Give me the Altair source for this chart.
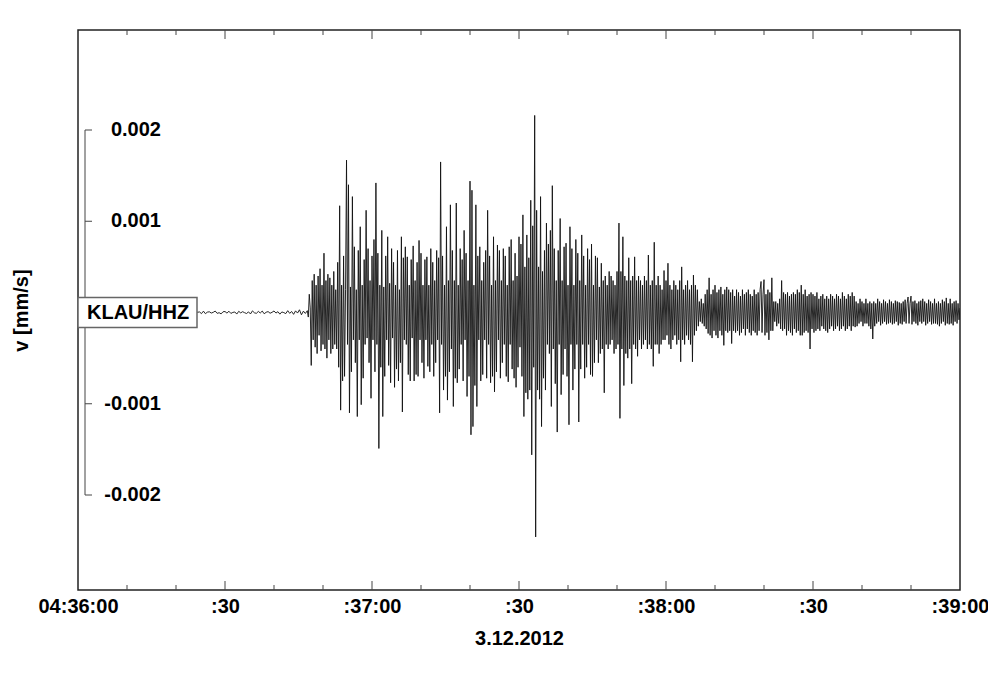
import altair as alt
import pandas as pd

# ---------------- data ----------------
PRE_INTERVAL_S = 0.4        # pre-event noise sampling, starts 04:36:00
EVENT_START_S = 46.8        # first event sample, seconds after 04:36:00
EVENT_INTERVAL_S = 0.2      # event sampling

# velocity in micrometres per second (1 um/s = 0.001 mm/s)
pre_event_um = [
    0.00, 0.01, -0.005, 0.012, 0.004, -0.01, -0.003, 0.008, -0.015, 0.006,
    0.01, -0.004, 0.002, 0.014, -0.008, -0.012, 0.005, 0.0, 0.009, -0.006,
    -0.014, 0.01, 0.004, -0.002, 0.012, 0.006, -0.01, -0.005, 0.008, -0.003,
    0.011, -0.016, 0.004, 0.015, -0.006, 0.002, -0.009, 0.006, 0.012, -0.014,
    0.003, 0.008, -0.01, 0.016, -0.004, 0.005, -0.002, -0.015, 0.007, 0.012,
    -0.008, 0.001, 0.017, -0.006, 0.004, -0.016, -0.002, 0.009, -0.007, 0.014,
    -0.01, 0.003, 0.006, -0.012, 0.015, -0.013, 0.004, 0.008, -0.006, 0.002,
    0.016, -0.009, -0.002, -0.015, 0.008, 0.011, -0.007, 0.014, -0.01, 0.001,
    0.006, -0.017, 0.013, -0.004, 0.009, -0.002, -0.011, 0.007, -0.016, 0.018,
    -0.003, -0.009, 0.012, -0.005, 0.016, -0.014, 0.003, 0.01, -0.008, 0.002,
    0.017, -0.006, 0.009, -0.018, 0.006, -0.001, -0.012, 0.02, -0.009, 0.011,
    -0.02, 0.018, -0.006, 0.03, -0.025, 0.015, -0.01,
]

event_um = [
    0.02, -0.05, 0.20, 0.05, -0.58, 0.35, -0.30, 0.42, -0.38, 0.30,
    -0.45, 0.40, -0.25, 0.48, -0.42, 0.30, -0.35, 0.65, -0.40, 0.35,
    -0.50, 0.42, -0.30, 0.38, -0.45, 0.30, -0.40, 0.45, -0.35, 0.25,
    -0.40, 0.55, -0.60, 1.17, -1.07, 0.30, -0.75, 0.62, -0.70, 0.25,
    1.67, -0.35, 1.40, -1.10, 0.28, -0.65, 1.27, -0.30, 0.72, -0.55,
    0.25, -1.14, 0.68, -0.30, 0.94, -1.01, 0.30, -0.72, 0.58, -0.35,
    1.12, -0.28, 0.70, -0.55, 0.35, -0.94, 0.62, -0.30, 0.80, -0.65,
    1.42, -0.35, 0.65, -1.49, 0.30, -0.60, 0.90, -1.14, 0.28, -0.70,
    0.62, -0.30, 0.83, -0.58, 0.32, -0.77, 0.70, -0.28, 0.55, -0.82,
    0.30, -0.62, 0.68, -0.75, 0.25, -0.55, 0.83, -1.09, 0.60, -0.30,
    0.72, -0.35, 0.61, -0.68, 0.30, -0.75, 0.58, -0.28, 0.73, -0.75,
    0.35, -0.68, 0.55, -0.70, 0.79, -0.30, 0.65, -0.55, 0.30, -0.72,
    0.58, -0.30, 0.61, -0.59, 0.30, -0.65, 0.70, -0.35, 0.55, -0.70,
    0.35, -0.55, 0.68, -0.30, 0.60, -1.10, 1.65, -0.35, 0.62, -0.85,
    0.30, -0.70, 0.94, -0.96, 0.35, -0.65, 1.18, -0.40, 0.68, -1.03,
    0.35, -0.72, 1.20, -0.77, 0.30, -0.62, 0.70, -0.35, 0.58, -0.75,
    0.90, -0.30, 0.65, -0.92, 0.35, -0.70, 1.44, -1.34, 1.34, -1.25,
    0.30, -0.80, 1.18, -1.03, 0.62, -0.30, 0.72, -0.75, 0.35, -0.68,
    0.55, -0.30, 0.68, -0.72, 1.12, -0.35, 0.62, -0.77, 0.30, -0.70,
    0.83, -0.87, 0.35, -0.65, 0.74, -0.30, 0.68, -0.72, 0.35, -0.55,
    0.70, -0.35, 0.62, -0.70, 0.30, -0.76, 0.72, -0.35, 0.80, -0.62,
    0.35, -0.72, 0.65, -0.82, 0.40, -0.60, 0.83, -0.38, 0.75, -0.70,
    1.07, -1.14, 0.50, -0.88, 0.85, -0.95, 0.60, -0.85, 1.23, -1.56,
    0.95, -0.60, 2.16, -2.46, 1.12, -0.85, 0.50, -0.95, 1.27, -1.25,
    0.45, -0.72, 0.68, -0.85, 0.98, -0.35, 0.75, -0.45, 0.90, -1.03,
    1.39, -0.40, 0.70, -0.78, 0.35, -1.31, 0.68, -0.35, 1.03, -0.90,
    0.35, -0.68, 0.72, -0.40, 0.76, -0.70, 0.30, -1.23, 0.94, -0.35,
    0.70, -0.85, 0.30, -0.62, 0.80, -0.35, 0.65, -1.20, 0.35, -0.62,
    0.85, -0.35, 0.62, -0.72, 0.30, -0.60, 0.70, -0.35, 0.58, -0.68,
    0.75, -0.70, 0.30, -0.55, 0.62, -0.30, 0.60, -0.55, 0.28, -0.45,
    0.54, -0.40, 0.35, -0.88, 0.40, -0.35, 0.30, -0.40, 0.45, -0.35,
    0.40, -0.30, 0.35, -0.45, 0.30, -0.40, 0.45, -0.35, 0.98, -1.16,
    0.45, -0.40, 0.83, -0.80, 0.40, -0.45, 0.35, -0.50, 0.60, -0.40,
    0.35, -0.78, 0.40, -0.35, 0.61, -0.40, 0.35, -0.48, 0.40, -0.30,
    0.35, -0.40, 0.30, -0.35, 0.40, -0.30, 0.35, -0.40, 0.63, -0.35,
    0.30, -0.40, 0.35, -0.59, 0.77, -0.35, 0.30, -0.35, 0.40, -0.45,
    0.30, -0.35, 0.25, -0.30, 0.46, -0.30, 0.35, -0.25, 0.54, -0.35,
    0.30, -0.40, 0.25, -0.30, 0.35, -0.25, 0.30, -0.35, 0.25, -0.30,
    0.35, -0.54, 0.50, -0.30, 0.25, -0.35, 0.30, -0.25, 0.35, -0.30,
    0.25, -0.35, 0.30, -0.54, 0.41, -0.25, 0.30, -0.20, 0.25, -0.15,
    0.12, -0.10, 0.15, -0.12, 0.10, -0.15, 0.20, -0.18, 0.25, -0.23,
    0.38, -0.25, 0.20, -0.28, 0.25, -0.20, 0.30, -0.25, 0.22, -0.28,
    0.25, -0.20, 0.28, -0.25, 0.20, -0.36, 0.25, -0.20, 0.28, -0.22,
    0.25, -0.20, 0.22, -0.34, 0.25, -0.20, 0.18, -0.22, 0.25, -0.20,
    0.22, -0.25, 0.18, -0.22, 0.25, -0.18, 0.20, -0.25, 0.22, -0.18,
    0.25, -0.22, 0.20, -0.25, 0.18, -0.20, 0.25, -0.22, 0.20, -0.25,
    0.22, -0.20, 0.25, 0.34, -0.22, 0.20, 0.36, -0.25, 0.20, -0.22,
    0.25, -0.30, 0.22, -0.20, 0.38, -0.20, 0.12, -0.10, 0.12, -0.15,
    0.10, -0.12, 0.15, -0.18, 0.35, -0.20, 0.22, -0.18, 0.20, -0.25,
    0.22, -0.20, 0.18, -0.22, 0.20, -0.25, 0.22, -0.18, 0.20, -0.22,
    0.25, -0.20, 0.22, -0.25, 0.30, -0.25, 0.20, -0.22, 0.25, -0.20,
    0.18, -0.22, 0.20, -0.40, 0.22, -0.18, 0.20, -0.22, 0.18, -0.20,
    0.22, -0.18, 0.15, -0.20, 0.18, -0.15, 0.20, -0.18, 0.15, -0.20,
    0.18, -0.22, 0.15, -0.18, 0.20, -0.15, 0.18, -0.20, 0.15, -0.18,
    0.20, -0.15, 0.18, -0.20, 0.15, -0.18, 0.22, -0.15, 0.18, -0.20,
    0.15, -0.18, 0.20, -0.15, 0.18, -0.20, 0.22, -0.15, 0.18, -0.16,
    0.12, -0.15, 0.10, -0.12, 0.15, -0.10, 0.12, -0.15, 0.10, -0.12,
    0.15, -0.12, 0.10, -0.15, 0.12, -0.18, 0.10, -0.29, 0.12, -0.15,
    0.10, -0.12, 0.15, -0.10, 0.12, -0.14, 0.10, -0.12, 0.14, -0.10,
    0.12, -0.13, 0.10, -0.12, 0.14, -0.11, 0.12, -0.13, 0.10, -0.12,
    0.13, -0.10, 0.12, -0.14, 0.11, -0.12, 0.10, -0.13, 0.12, -0.10,
    0.14, -0.12, 0.10, 0.17, -0.12, 0.10, 0.18, -0.13, 0.12, -0.10,
    0.13, -0.12, 0.10, -0.14, 0.12, -0.10, 0.13, -0.12, 0.15, -0.10,
    0.12, -0.14, 0.10, -0.12, 0.14, -0.10, 0.12, -0.13, 0.10, -0.12,
    0.15, -0.12, 0.10, -0.13, 0.12, -0.15, 0.10, -0.12, 0.14, -0.10,
    0.12, -0.14, 0.16, -0.12, 0.10, -0.13, 0.15, -0.12, 0.10, -0.14,
    0.12, -0.10, 0.13, -0.12, 0.10, -0.08, 0.05,
]

x_tick_values = [0, 30, 60, 90, 120, 150, 180]
x_tick_labels = ["04:36:00", ":30", ":37:00", ":30", ":38:00", ":30", ":39:00"]
major_inner_ticks = [30, 60, 90, 120, 150]
minor_ticks = [10, 20, 40, 50, 70, 80, 100, 110, 130, 140, 160, 170]

scale_values = [0.002, 0.001, -0.001, -0.002]
scale_labels = ["0.002", "0.001", "-0.001", "-0.002"]

station = "KLAU/HHZ"
date_label = "3.12.2012"
y_title = "v [mm/s]"

# ---------------- tables ----------------
times = [i * PRE_INTERVAL_S for i in range(len(pre_event_um))] + \
        [EVENT_START_S + j * EVENT_INTERVAL_S for j in range(len(event_um))]
samples = pre_event_um + event_um
wave_df = pd.DataFrame({"t": times, "v": [s / 1000.0 for s in samples]})
major_df = pd.DataFrame({"t": major_inner_ticks})
minor_df = pd.DataFrame({"t": minor_ticks})
scale_df = pd.DataFrame({"v": scale_values, "label": scale_labels})
bar_df = pd.DataFrame({"v": [max(scale_values)], "v2": [min(scale_values)]})
station_df = pd.DataFrame({"label": [station], "v": [0.0]})

FONT = "Liberation Sans"
W, H = 882, 560

xscale = alt.Scale(domain=[0, 180], nice=False, zero=False)
yscale = alt.Scale(domain=[-0.003041, 0.003096], nice=False, zero=False)

label_expr = "[" + ",".join("'" + s + "'" for s in x_tick_labels) + "][round(datum.value / 30)]"

x_axis = alt.Axis(
    values=x_tick_values, labelExpr=label_expr, ticks=False, tickSize=0,
    domain=False, grid=False, labelFlush=False, labelOverlap=False, labelBound=False,
    labelFont=FONT, labelFontSize=20, labelFontWeight="bold", labelColor="black",
    labelPadding=6, title=date_label, titleFont=FONT, titleFontSize=20,
    titleFontWeight="bold", titleColor="black", titlePadding=12,
)
y_axis = alt.Axis(
    labels=False, ticks=False, tickSize=0, domain=False, grid=False,
    title=y_title, titleFont=FONT, titleFontSize=20, titleFontWeight="bold",
    titleColor="black", titlePadding=47,
)

X = alt.X("t:Q", scale=xscale, axis=x_axis)
Y = alt.Y("v:Q", scale=yscale, axis=y_axis)

wave = alt.Chart(wave_df).mark_line(color="#111111", strokeWidth=0.9, clip=True).encode(x=X, y=Y)

tick_color = "#444444"
bottom_major = alt.Chart(major_df).mark_rule(color=tick_color, strokeWidth=1).encode(
    x=X, y=alt.value(H), y2=alt.value(H - 9))
bottom_minor = alt.Chart(minor_df).mark_rule(color=tick_color, strokeWidth=1).encode(
    x=X, y=alt.value(H), y2=alt.value(H - 5))
top_major = alt.Chart(major_df).mark_rule(color=tick_color, strokeWidth=1).encode(
    x=X, y=alt.value(0), y2=alt.value(9))
top_minor = alt.Chart(minor_df).mark_rule(color=tick_color, strokeWidth=1).encode(
    x=X, y=alt.value(0), y2=alt.value(5))

scale_bar = alt.Chart(bar_df).mark_rule(color=tick_color, strokeWidth=1).encode(
    x=alt.value(7), y=Y, y2="v2:Q")
scale_ticks = alt.Chart(scale_df).mark_rule(color=tick_color, strokeWidth=1).encode(
    x=alt.value(7), x2=alt.value(14), y=Y)
scale_text = alt.Chart(scale_df).mark_text(
    align="right", baseline="middle", font=FONT, fontSize=20, fontWeight="bold", color="black"
).encode(x=alt.value(83), y=Y, text="label:N")

box = alt.Chart(station_df).mark_rect(
    fill="white", stroke="#666666", strokeWidth=1.5
).encode(x=alt.value(0), x2=alt.value(119), y=alt.value(267.5), y2=alt.value(297.5))
box_text = alt.Chart(station_df).mark_text(
    align="left", baseline="middle", font=FONT, fontSize=20, fontWeight="bold", color="black"
).encode(x=alt.value(9), y=Y, text="label:N")

chart = alt.layer(
    wave, bottom_major, bottom_minor, top_major, top_minor,
    scale_bar, scale_ticks, scale_text, box, box_text,
).properties(
    width=W, height=H,
    autosize=alt.AutoSizeParams(type="none"),
    padding={"left": 70, "top": 22, "right": 28, "bottom": 58},
    background="white",
).configure_view(stroke="#222222", strokeWidth=1.5)

chart.save("out.html", embed_options={"renderer": "svg", "actions": False})
